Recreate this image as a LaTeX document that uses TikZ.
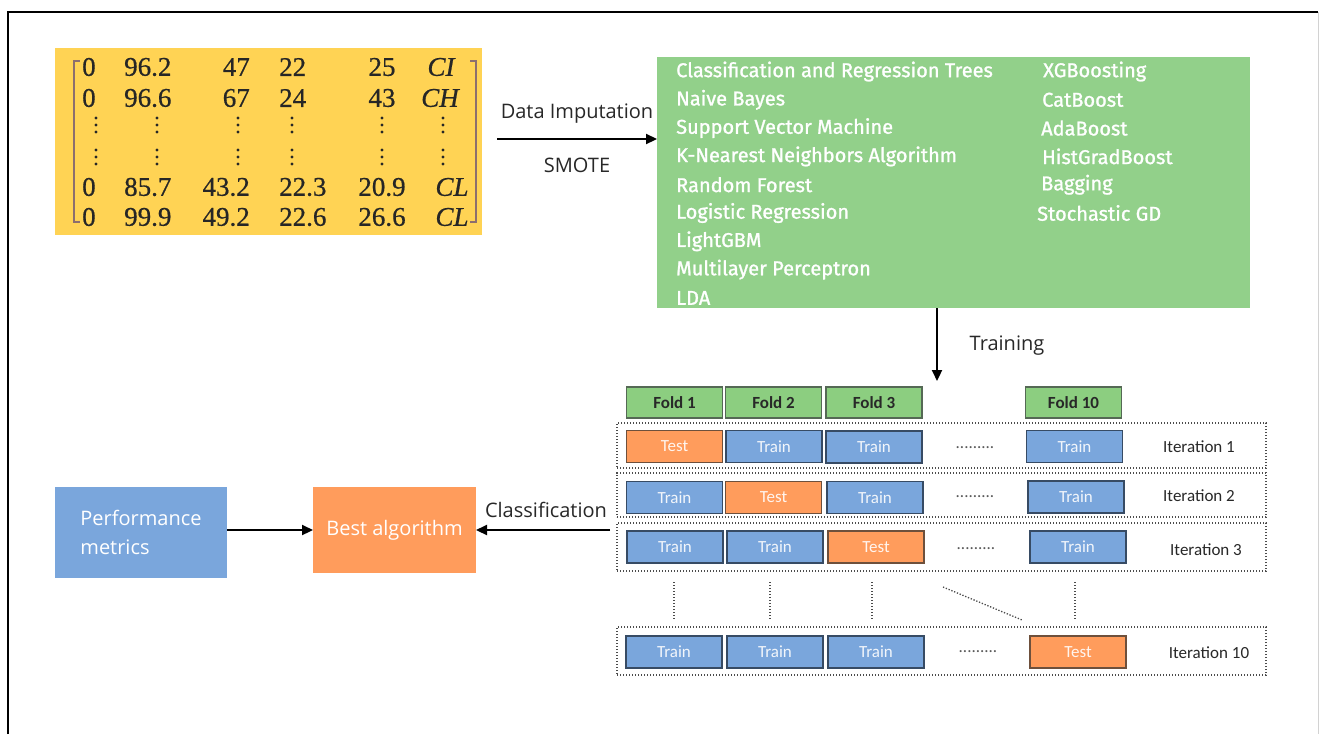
\documentclass[tikz,border=0pt]{standalone}
\usepackage{fontspec}
\setmainfont{Open Sans}
\newfontfamily\mtxfont[FakeBold=0.6]{Liberation Serif}
\newfontfamily\algfont[FakeBold=1.2]{Fira Sans}
\newfontfamily\cellfont{Carlito}
\usetikzlibrary{arrows.meta}

\definecolor{mtxyellow}{RGB}{255,211,84}
\definecolor{algogreen}{RGB}{146,208,138}
\definecolor{foldgreen}{RGB}{140,206,128}
\definecolor{cellblue}{RGB}{122,166,220}
\definecolor{cellorange}{RGB}{255,156,92}
\definecolor{blueedge}{RGB}{55,75,100}
\definecolor{orangeedge}{RGB}{110,80,60}
\definecolor{greenedge}{RGB}{85,105,85}
\definecolor{labelgray}{RGB}{40,40,40}
\definecolor{bracketbrown}{RGB}{140,110,110}

\tikzset{
  block/.style={inner sep=0pt, outer sep=0pt},
  mtxentry/.style={inner sep=0pt, text=black!85, font=\mtxfont\fontsize{27}{27}\selectfont},
  algitem/.style={anchor=west, inner sep=0pt, text=white, font=\algfont\fontsize{20}{20}\selectfont},
  foldbox/.style={block, fill=foldgreen, draw=greenedge, line width=1.2pt,
    minimum width=96pt, minimum height=31pt, text=labelgray,
    font=\cellfont\bfseries\fontsize{17}{17}\selectfont},
  trainbox/.style={block, fill=cellblue, draw=blueedge, line width=1.2pt,
    minimum width=96pt, minimum height=32pt, text=white!90!cellblue,
    font=\cellfont\fontsize{17}{17}\selectfont},
  testbox/.style={trainbox, fill=cellorange, draw=orangeedge, text=white!90!cellorange},
  iterframe/.style={block, draw=gray!60!black, line width=1.4pt,
    dash pattern=on 1.4pt off 1.6pt},
  iterlabel/.style={inner sep=0pt, text=labelgray, font=\cellfont\fontsize{17}{17}\selectfont},
  skipdots/.style={inner sep=0pt, text=gray!70!black, font=\cellfont\fontsize{17}{17}\selectfont},
  flowlabel/.style={inner sep=0pt, text=labelgray, font=\fontsize{20}{20}\selectfont},
  flow/.style={line width=2.2pt, -{Triangle[length=11pt,width=10pt]}},
  gap/.style={gray!60!black, line width=1.3pt, dash pattern=on 1.3pt off 1.7pt},
}

\begin{document}
\begin{tikzpicture}[x=1pt,y=-1pt]
\useasboundingbox (0,0) rectangle (1319,734);
\fill[white] (0,0) rectangle (1319,734);

% outer frame
\draw[line width=2pt] (8,734) -- (8,12) -- (1318,12);
\draw[gray!35, line width=1pt] (1318,12) -- (1318,734);

% data matrix
\node[block, fill=mtxyellow, minimum width=427pt, minimum height=187pt] (mtx) at (268.5,141.5) {};
\draw[bracketbrown, line width=1.5pt] (80,61) -- (74,61) -- (74,222) -- (80,222);
\draw[bracketbrown, line width=1.5pt] (470,61) -- (476,61) -- (476,222) -- (470,222);

\foreach \y/\a/\b/\c/\d/\e/\f/\g in {
  67/0/96.2/47/22/25/CI/441,
  98/0/96.6/67/24/43/CH/440,
  187/0/85.7/43.2/22.3/20.9/CL/452,
  217/0/99.9/49.2/22.6/26.6/CL/452}{
  \node[mtxentry, anchor=west] at (82,\y) {\a};
  \node[mtxentry, anchor=west] at (124,\y) {\b};
  \node[mtxentry, anchor=east] at (250,\y) {\c};
  \node[mtxentry, anchor=west] at (279,\y) {\d};
  \node[mtxentry] at (382,\y) {\e};
  \node[mtxentry] at (\g,\y) {\itshape\f};
}
% vertical ellipses of the elided rows
\foreach \y in {125,157}{
  \foreach \x in {96,157,238,292,382,443}{
    \foreach \k in {-7,0,7}{
      \fill[black!85] (\x,\y+\k) circle (1.7pt);
    }
  }
}

% algorithm list
\node[block, fill=algogreen, minimum width=593pt, minimum height=251pt] (algos) at (953.5,182.5) {};
\foreach \t [count=\i from 0] in {Classification and Regression Trees, Naive Bayes,
  Support Vector Machine, K-Nearest Neighbors Algorithm, Random Forest,
  Logistic Regression, LightGBM, Multilayer Perceptron, LDA}{
  \node[algitem] at (676,71.5+28.3*\i) {\t};
}
\foreach \t/\x [count=\i from 0] in {XGBoosting/1043, CatBoost/1042, AdaBoost/1041,
  HistGradBoost/1042, Bagging/1041, Stochastic GD/1037}{
  \node[algitem] at (\x,71.5+28.3*\i) {\t};
}

% preprocessing arrow
\draw[flow, shorten <=15pt] (mtx.east |- 0,139) -- (algos.west |- 0,139);
\node[flowlabel] (imp) at (577,114) {Data Imputation};
\node[flowlabel] (smote) at (577,165) {SMOTE};

% training arrow
\coordinate (trainend) at (937,381);
\draw[flow] (algos.south -| trainend) -- (trainend);
\node[flowlabel] (train) at (1007,346) {Training};

% folds
\node[foldbox] (f1) at (674.5,402.5) {Fold 1};
\node[foldbox] (f2) at (773.5,402.5) {Fold 2};
\node[foldbox] (f3) at (874,402.5) {Fold 3};
\node[foldbox] (f10) at (1073.5,402.5) {Fold 10};

% iteration 1
\node[iterframe, minimum width=649pt, minimum height=45pt] (it1) at (941.5,445.5) {};
\node[testbox] (r1a) at (674.5,446.5) {Test};
\node[trainbox] (r1b) at (774,446.5) {Train};
\node[trainbox] (r1c) at (874,447) {Train};
\node[skipdots] (r1d) at (975,448) {.........};
\node[trainbox] (r1e) at (1074.5,446.5) {Train};
\node[iterlabel] (r1l) at (1199,447) {Iteration 1};

% iteration 2
\node[iterframe, minimum width=649pt, minimum height=44pt] (it2) at (941.5,495) {};
\node[trainbox] (r2a) at (674.5,497.5) {Train};
\node[testbox] (r2b) at (773.5,497.5) {Test};
\node[trainbox] (r2c) at (875,497.5) {Train};
\node[skipdots] (r2d) at (975,497) {.........};
\node[trainbox] (r2e) at (1076,497) {Train};
\node[iterlabel] (r2l) at (1199,496) {Iteration 2};

% iteration 3
\node[iterframe, minimum width=649pt, minimum height=48pt] (it3) at (941.5,547) {};
\node[trainbox] (r3a) at (675,547) {Train};
\node[trainbox] (r3b) at (775,547) {Train};
\node[testbox] (r3c) at (876,547) {Test};
\node[skipdots] (r3d) at (976,549) {.........};
\node[trainbox] (r3e) at (1078,547) {Train};
\node[iterlabel] (r3l) at (1206,550) {Iteration 3};

% skipped iterations
\foreach \x in {674,770,872,1075}{
  \draw[gap] (\x,582) -- (\x,620);
}
\draw[gap] (943,587) -- (1022,620);

% iteration 10
\node[iterframe, minimum width=649pt, minimum height=48pt] (it10) at (941.5,651) {};
\node[trainbox] (r10a) at (674,652) {Train};
\node[trainbox] (r10b) at (775,652) {Train};
\node[trainbox] (r10c) at (876,652) {Train};
\node[skipdots] (r10d) at (978,652) {.........};
\node[testbox] (r10e) at (1078,652) {Test};
\node[iterlabel] (r10l) at (1209,653) {Iteration 10};

% result blocks
\node[block, fill=cellblue, minimum width=172pt, minimum height=91pt,
  text=white, align=left, font=\fontsize{20}{29}\selectfont] (perf) at (141,532.5)
  {Performance\\metrics};
\node[block, fill=cellorange, minimum width=163pt, minimum height=86pt,
  text=white, font=\fontsize{20}{20}\selectfont] (best) at (394.5,530) {Best algorithm};

\draw[flow] (perf.east |- best.east) -- (best.west);
\draw[flow, shorten <=7pt] (best.east -| it3.west) -- (best.east);
\node[flowlabel] (cls) at (546,510) {Classification};
\end{tikzpicture}
\end{document}
